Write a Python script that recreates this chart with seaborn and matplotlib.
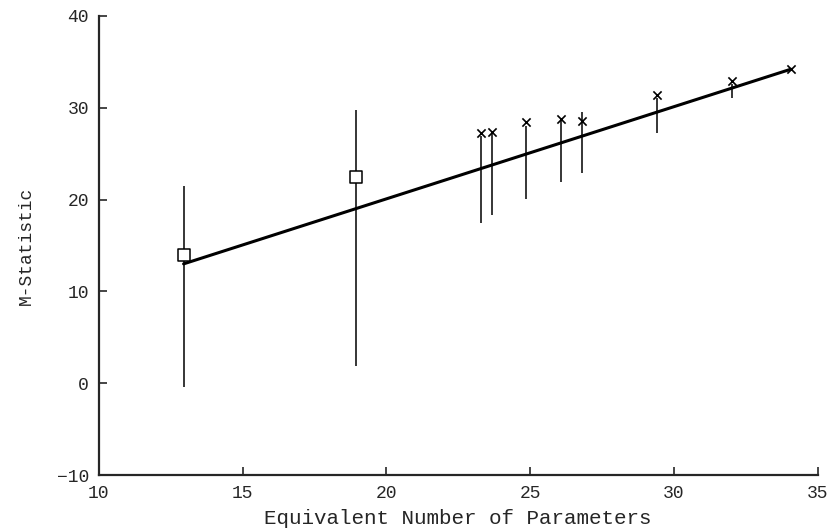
import numpy as np
import pandas as pd
import matplotlib
matplotlib.use("Agg")
import matplotlib.pyplot as plt
import seaborn as sns

# Dados
eq_params = [12.95, 18.95, 23.28, 23.68, 24.87, 26.06, 26.80, 29.40, 32.04, 34.07]
m_stat = [14.0, 22.5, 27.2, 27.4, 28.5, 28.8, 28.6, 31.4, 32.9, 34.2]
lower = [-0.4, 1.9, 17.5, 18.3, 20.1, 21.9, 22.9, 27.2, 31.05, np.nan]
upper = [21.5, 29.8, 26.9, 27.2, 28.0, 28.6, 29.5, 31.1, 32.6, np.nan]
kind = ['quadrado', 'quadrado'] + ['cruz'] * 8

# Reta ajustada
fit_x = [12.95, 34.07]
fit_y = [13.0, 34.2]

x_ticks = [10, 15, 20, 25, 30, 35]
y_ticks = [-10, 0, 10, 20, 30, 40]

df = pd.DataFrame({'x': eq_params, 'y': m_stat, 'lo': lower, 'hi': upper, 'tipo': kind})
df_fit = pd.DataFrame({'x': fit_x, 'y': fit_y})

sns.set_style('ticks')
plt.rcParams['font.family'] = ['Liberation Mono', 'DejaVu Sans Mono']

fig = plt.figure(figsize=(8.3, 5.32), dpi=100)
ax = fig.add_axes([0.119, 0.107, 0.866, 0.863])

# Barras verticais
barras = df.dropna()
ax.vlines(barras['x'], barras['lo'], barras['hi'], color='black', linewidth=1.1)

# Reta
sns.lineplot(data=df_fit, x='x', y='y', color='black', linewidth=2.2, ax=ax)

# Pontos: quadrados abertos e cruzes
quad = df[df['tipo'] == 'quadrado']
cruz = df[df['tipo'] == 'cruz']
sns.scatterplot(data=quad, x='x', y='y', marker='s', s=65,
                facecolor='white', edgecolor='black', linewidth=1.1,
                legend=False, ax=ax, zorder=5)
sns.scatterplot(data=cruz, x='x', y='y', marker='x', s=35,
                color='black', linewidth=1.2, legend=False, ax=ax, zorder=5)

ax.set_xlim(10, 35)
ax.set_ylim(-10, 40)
ax.set_xticks(x_ticks)
ax.set_yticks(y_ticks)
ax.tick_params(direction='in', length=6, width=1.2, labelsize=13, pad=7)
ax.set_xlabel('Equivalent Number of Parameters', fontsize=15, labelpad=5)
ax.set_ylabel('M-Statistic', fontsize=13, labelpad=16)
sns.despine(ax=ax)
for s in ['left', 'bottom']:
    ax.spines[s].set_linewidth(1.6)

fig.savefig('out.png', dpi=100)
